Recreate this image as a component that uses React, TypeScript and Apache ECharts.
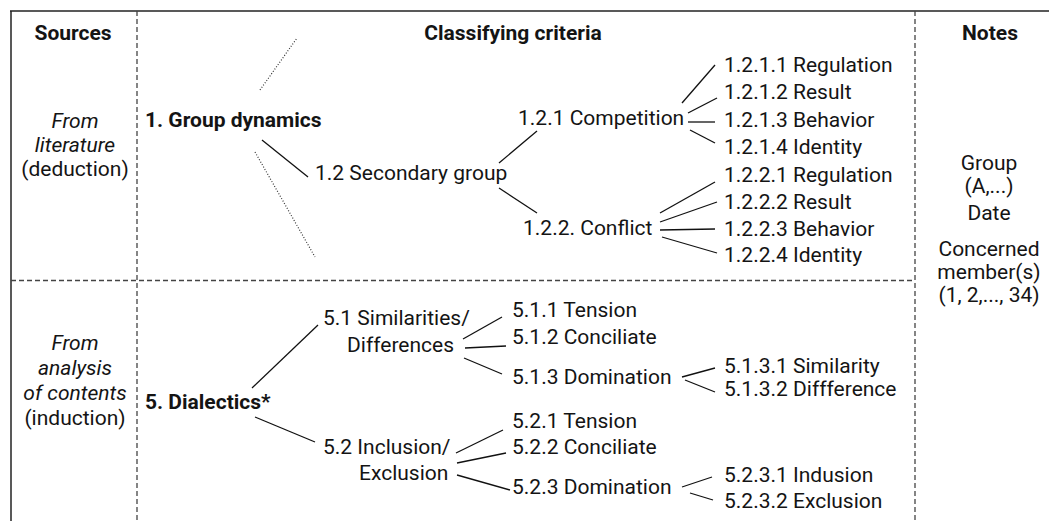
import React, { useEffect, useRef } from "react";
import * as echarts from "echarts";

// ---- content (texts) ----
const headers = ["Sources", "Classifying criteria", "Notes"];
const sourcesTop = ["From", "literature", "(deduction)"];
const sourcesBottom = ["From", "analysis", "of contents", "(induction)"];
const notes = ["Group", "(A,...)", "Date", "Concerned", "member(s)", "(1, 2,..., 34)"];
const rootNodes = ["1. Group dynamics", "5. Dialectics*"];
const level2 = ["1.2 Secondary group", "5.1 Similarities/", "Differences", "5.2 Inclusion/", "Exclusion"];
const level3 = ["1.2.1 Competition", "1.2.2. Conflict", "5.1.1 Tension", "5.1.2 Conciliate", "5.1.3 Domination", "5.2.1 Tension", "5.2.2 Conciliate", "5.2.3 Domination"];
const competitionLeaves = ["1.2.1.1 Regulation", "1.2.1.2 Result", "1.2.1.3 Behavior", "1.2.1.4 Identity"];
const conflictLeaves = ["1.2.2.1 Regulation", "1.2.2.2 Result", "1.2.2.3 Behavior", "1.2.2.4 Identity"];
const dominationLeaves = ["5.1.3.1 Similarity", "5.1.3.2 Diffference", "5.2.3.1 Indusion", "5.2.3.2 Exclusion"];

// ---- layout (positions) ----
const headerPos = [[73, 33], [513, 33], [990, 33]];
const sourcesTopY = [121, 145, 169];
const sourcesBottomY = [343, 368, 393, 418];
const notesY = [163, 186, 213, 249, 272, 295];
const rootPos = [[145, 120], [145, 402]];
const level2Pos = [[315, 173], [323, 318], [347, 345], [323, 447], [359, 473]];
const level3Pos = [[518, 118], [523, 228], [512, 310], [512, 337], [512, 377], [512, 421], [512, 447], [512, 487]];
const competitionY = [65, 92, 120, 147];
const conflictY = [175, 202, 229, 255];
const dominationY = [366, 389, 475, 501];
const leafX = 724;

const solidLinks = [
  [262, 140, 308, 177],
  [499, 163, 537, 131],
  [499, 188, 537, 213],
  [682, 103, 715, 65],
  [688, 113, 717, 98],
  [688, 122, 715, 122],
  [690, 130, 715, 143],
  [660, 213, 715, 182],
  [660, 222, 717, 202],
  [660, 230, 715, 229],
  [662, 237, 717, 253],
  [252, 388, 318, 325],
  [255, 417, 315, 442],
  [463, 339, 502, 317],
  [465, 348, 506, 346],
  [464, 358, 502, 374],
  [456, 453, 503, 430],
  [457, 463, 506, 453],
  [457, 475, 510, 490],
  [682, 377, 715, 368],
  [685, 380, 715, 392],
  [682, 487, 712, 477],
  [690, 493, 713, 500],
];
const dottedLinks = [
  [260, 90, 297, 38],
  [255, 152, 315, 257],
];

const FONT = "Roboto, 'DejaVu Sans', sans-serif";
const TEXT_COLOR = "#141414";

function txt(text: string, x: number, y: number, opts: any = {}) {
  return {
    type: "text",
    x,
    y,
    silent: true,
    style: {
      text,
      fill: TEXT_COLOR,
      font: `${opts.style || "normal"} ${opts.weight || "normal"} ${opts.size || 21}px ${FONT}`,
      align: opts.align || "left",
      verticalAlign: "middle",
    },
  };
}

function line(x1: number, y1: number, x2: number, y2: number, style: any) {
  return {
    type: "line",
    silent: true,
    shape: { x1, y1, x2, y2 },
    style,
  };
}

export default function App() {
  const ref = useRef<HTMLDivElement>(null);
  useEffect(() => {
    document.body.style.margin = "0";
    const chart = echarts.init(ref.current!, null, { renderer: "svg" });
    const els: any[] = [];
    const frame = { stroke: "#222", lineWidth: 1.5 };
    const dash = { stroke: "#444", lineWidth: 1.3, lineDash: [5, 3] };
    els.push(line(10, 11, 1049, 11, frame));
    els.push(line(11, 11, 11, 521, frame));
    els.push(line(137, 11, 137, 521, dash));
    els.push(line(915, 11, 915, 521, dash));
    els.push(line(11, 280.5, 915, 280.5, dash));

    headers.forEach((h, i) => els.push(txt(h, headerPos[i][0], headerPos[i][1], { weight: "bold", align: "center" })));
    sourcesTop.forEach((t, i) => els.push(txt(t, 75, sourcesTopY[i], { align: "center", style: i < 2 ? "italic" : "normal" })));
    sourcesBottom.forEach((t, i) => els.push(txt(t, 75, sourcesBottomY[i], { align: "center", style: i < 3 ? "italic" : "normal" })));
    notes.forEach((t, i) => els.push(txt(t, 989, notesY[i], { align: "center" })));
    rootNodes.forEach((t, i) => els.push(txt(t, rootPos[i][0], rootPos[i][1], { weight: "bold" })));
    level2.forEach((t, i) => els.push(txt(t, level2Pos[i][0], level2Pos[i][1])));
    level3.forEach((t, i) => els.push(txt(t, level3Pos[i][0], level3Pos[i][1])));
    competitionLeaves.forEach((t, i) => els.push(txt(t, leafX, competitionY[i])));
    conflictLeaves.forEach((t, i) => els.push(txt(t, leafX, conflictY[i])));
    dominationLeaves.forEach((t, i) => els.push(txt(t, leafX, dominationY[i])));

    solidLinks.forEach((l) => els.push(line(l[0], l[1], l[2], l[3], { stroke: "#111", lineWidth: 1.3 })));
    dottedLinks.forEach((l) => els.push(line(l[0], l[1], l[2], l[3], { stroke: "#333", lineWidth: 1.2, lineDash: [1, 1.8] })));

    chart.setOption({
      animation: false,
      backgroundColor: "#ffffff",
      graphic: { elements: els },
    });
    return () => chart.dispose();
  }, []);
  return <div ref={ref} style={{ position: "absolute", left: 0, top: 0, width: 1049, height: 521 }} />;
}
